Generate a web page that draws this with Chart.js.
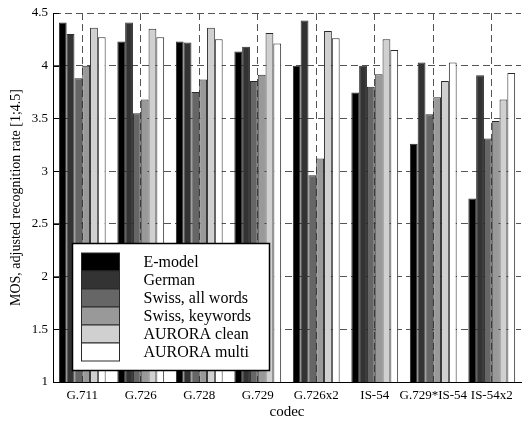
<!DOCTYPE html>
<html>
<head>
<meta charset="utf-8">
<script src="https://cdn.jsdelivr.net/npm/chart.js@4"></script>
<style>
  html, body { margin: 0; padding: 0; background: #fff; }
  #wrap { width: 523px; height: 424px; position: relative; }
</style>
</head>
<body>
<div id="wrap"><canvas id="c" width="523" height="424"></canvas></div>
<script>
const categories = ['G.711', 'G.726', 'G.728', 'G.729', 'G.726x2', 'IS-54', 'G.729*IS-54', 'IS-54x2'];
const seriesNames = ['E-model', 'German', 'Swiss, all words', 'Swiss, keywords', 'AURORA clean', 'AURORA multi'];
const eModel      = [4.41, 4.23, 4.23, 4.135, 4.00, 3.745, 3.26, 2.74];
const german      = [4.30, 4.41, 4.22, 4.18, 4.43, 4.00, 4.03, 3.91];
const swissAll    = [3.88, 3.55, 3.75, 3.855, 2.96, 3.80, 3.54, 3.31];
const swissKw     = [4.00, 3.68, 3.87, 3.915, 3.12, 3.92, 3.70, 3.475];
const auroraClean = [4.36, 4.35, 4.36, 4.31, 4.33, 4.25, 3.855, 3.68];
const auroraMulti = [4.27, 4.27, 4.25, 4.21, 4.26, 4.15, 4.03, 3.93];
const seriesColors = ['#000000', '#333333', '#666666', '#999999', '#d0d0d0', '#ffffff'];
const yTicks = [1, 1.5, 2, 2.5, 3, 3.5, 4, 4.5];
const yTickLabels = ['1', '1.5', '2', '2.5', '3', '3.5', '4', '4.5'];

const FONT = 'Liberation Serif';
const allSeries = [eModel, german, swissAll, swissKw, auroraClean, auroraMulti];

const datasets = allSeries.map((d, i) => ({
  label: seriesNames[i],
  data: d,
  backgroundColor: seriesColors[i],
  borderColor: '#2a2a2a',
  borderWidth: 1,
  borderSkipped: 'start',
  categoryPercentage: 0.8,
  barPercentage: 1.0
}));

const inwardTicks = {
  id: 'inwardTicks',
  afterDatasetsDraw(chart) {
    const ctx = chart.ctx, y = chart.scales.y, a = chart.chartArea;
    ctx.save();
    ctx.strokeStyle = '#000';
    ctx.lineWidth = 1;
    yTicks.forEach(v => {
      const py = Math.round(y.getPixelForValue(v)) + 0.5;
      ctx.beginPath();
      ctx.moveTo(a.left, py);
      ctx.lineTo(a.left + 6, py);
      ctx.stroke();
    });
    ctx.restore();
  }
};

const boxLegend = {
  id: 'boxLegend',
  afterDraw(chart) {
    const ctx = chart.ctx, a = chart.chartArea;
    const bx = a.left + 19.5, by = 243.5, bw = 197, bh = 127;
    ctx.save();
    ctx.fillStyle = '#fff';
    ctx.fillRect(bx, by, bw, bh);
    ctx.strokeStyle = '#000';
    ctx.lineWidth = 1.5;
    ctx.strokeRect(bx, by, bw, bh);
    const sx = bx + 9, sy = by + 9.5, sw = 38, sh = 18;
    ctx.font = '16px "' + FONT + '"';
    ctx.textBaseline = 'middle';
    chart.data.datasets.forEach((ds, i) => {
      ctx.fillStyle = ds.backgroundColor;
      ctx.fillRect(sx, sy + i * sh, sw, sh);
      ctx.strokeStyle = '#2a2a2a';
      ctx.lineWidth = 1;
      ctx.strokeRect(sx, sy + i * sh, sw, sh);
      ctx.fillStyle = '#000';
      ctx.fillText(ds.label, bx + 71, sy + i * sh + sh / 2 + 0.5);
    });
    ctx.restore();
  }
};

new Chart(document.getElementById('c'), {
  type: 'bar',
  data: { labels: categories, datasets },
  options: {
    responsive: false,
    devicePixelRatio: 1,
    animation: false,
    layout: { padding: { top: 13, right: 2, left: 0, bottom: 0 } },
    plugins: { legend: { display: false }, tooltip: { enabled: false } },
    scales: {
      x: {
        grid: { display: true, offset: false, drawTicks: false, color: '#555', lineWidth: 1 },
        border: { display: true, color: '#000', width: 1, dash: [7, 4], z: 1 },
        ticks: { font: { family: FONT, size: 13 }, color: '#000', padding: 6, maxRotation: 0, autoSkip: false },
        title: { display: true, text: 'codec', font: { family: FONT, size: 15 }, color: '#000', padding: { top: 0, bottom: 3 } },
        afterFit(s) { s.height = 42; }
      },
      y: {
        min: 1, max: 4.5,
        afterBuildTicks(s) { s.ticks = yTicks.map(v => ({ value: v })); },
        grid: { display: true, drawTicks: false, color: '#555', lineWidth: 1 },
        border: { display: true, color: '#000', width: 1, dash: [7, 4], z: 1 },
        ticks: {
          font: { family: FONT, size: 13 }, color: '#000', padding: 5,
          callback: (v) => { const k = yTicks.indexOf(v); return k >= 0 ? yTickLabels[k] : ''; }
        },
        title: { display: true, text: 'MOS, adjusted recognition rate [1;4.5]', font: { family: FONT, size: 14 }, color: '#000', padding: { top: 8, bottom: 0 } },
        afterFit(s) { s.width = 53; }
      }
    }
  },
  plugins: [inwardTicks, boxLegend]
});
</script>
</body>
</html>
